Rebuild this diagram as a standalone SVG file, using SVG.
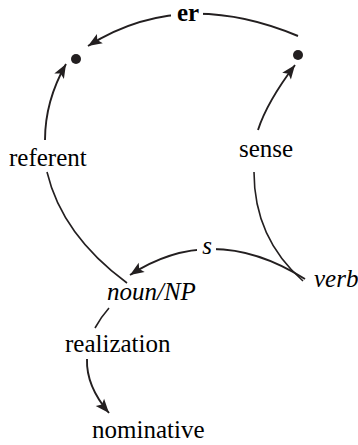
<svg xmlns="http://www.w3.org/2000/svg" width="358" height="445" viewBox="0 0 358 445">
<rect width="358" height="445" fill="#fff"/>
<g id="connectors" fill="none" stroke="#231f20">
<path stroke-width="1.9" d="M298,36 Q181,-13 88,46"/>
<path stroke-width="1.9" d="M45,140 Q45,101 66,64"/>
<path stroke-width="1.9" d="M258,130 Q267,102 295,65"/>
<path stroke-width="1.6" d="M47,172 Q62,235 127,283"/>
<path stroke-width="1.6" d="M254,172 Q254,238 303,281"/>
<path stroke-width="1.9" d="M305,279 Q213,221 130,275"/>
<path stroke-width="1.6" d="M109,308 Q101,317 95,328"/>
<path stroke-width="1.9" d="M87,359 Q86,386 109,413"/>
<g fill="#231f20" stroke="none">
<path d="M88,46 L96.9,33.9 L97.3,40.1 L102.8,43.2 Z"/>
<path d="M66,64 L63.9,78.9 L60.6,73.6 L54.3,73.5 Z"/>
<path d="M295,65 L290.9,79.5 L288.4,73.8 L282.2,72.8 Z"/>
<path d="M130,275 L138.7,262.8 L139.2,269 L144.7,272 Z"/>
<path d="M109,413 L95.7,405.9 L101.9,404.6 L104.1,398.8 Z"/>
</g>
<rect x="171" y="4" width="32" height="22" fill="#fff" stroke="none"/>
<rect x="197" y="238" width="19" height="20" fill="#fff" stroke="none"/>
</g>
<text x="188" y="21" font-family="Liberation Serif" font-size="25" font-weight="bold" text-anchor="middle">er</text>
<text x="207" y="254" font-family="Liberation Serif" font-size="25" font-style="italic" text-anchor="middle">s</text>
<g id="dot-referent"><circle cx="76" cy="59" r="5" fill="#231f20"/></g>
<g id="dot-sense"><circle cx="298" cy="55" r="5" fill="#231f20"/></g>
<g id="referent"><text x="9" y="166" font-family="Liberation Serif" font-size="25">referent</text></g>
<g id="sense"><text x="239" y="157" font-family="Liberation Serif" font-size="25">sense</text></g>
<g id="nounNP"><text x="107" y="300" font-family="Liberation Serif" font-size="25" font-style="italic">noun/NP</text></g>
<g id="verb"><text x="314" y="287" font-family="Liberation Serif" font-size="25" font-style="italic">verb</text></g>
<g id="realization"><text x="65" y="352" font-family="Liberation Serif" font-size="25">realization</text></g>
<g id="nominative"><text x="92" y="438" font-family="Liberation Serif" font-size="25">nominative</text></g>
</svg>
